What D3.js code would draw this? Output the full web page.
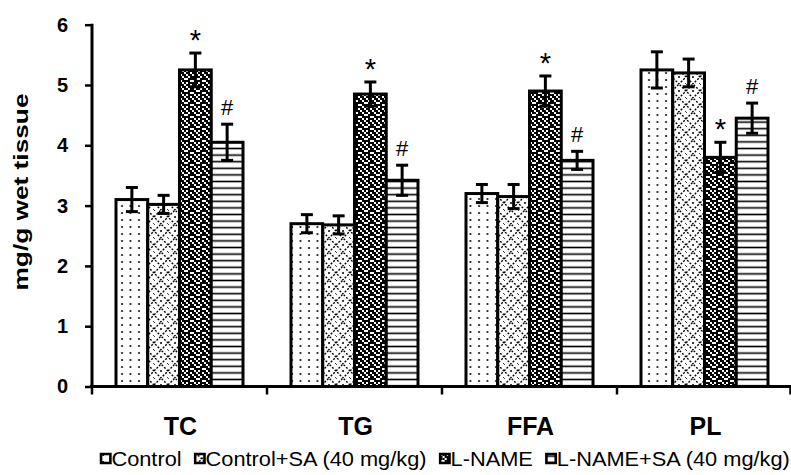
<!DOCTYPE html>
<html>
<head>
<meta charset="utf-8">
<script src="https://cdn.jsdelivr.net/npm/d3@7"></script>
<style>
  body { margin: 0; background: #fff; }
  text { font-family: Arial, "Liberation Sans", sans-serif; fill: #000; }
</style>
</head>
<body>
<svg id="chart"></svg>
<script>
// values, mg/g wet tissue
let categories = ["TC", "TG", "FFA", "PL"];
let groups = ["Control", "Control+SA (40 mg/kg)", "L-NAME", "L-NAME+SA (40 mg/kg)"];
let control = [3.1, 2.7, 3.2, 5.25];
let controlSA = [3.02, 2.68, 3.15, 5.2];
let lname = [5.25, 4.85, 4.9, 3.8];
let lnameSA = [4.05, 3.42, 3.75, 4.45];
let controlErr = [0.2, 0.15, 0.15, 0.3];
let controlSAErr = [0.15, 0.15, 0.2, 0.23];
let lnameErr = [0.28, 0.2, 0.25, 0.25];
let lnameSAErr = [0.3, 0.25, 0.15, 0.25];
let marks = ["", "", "*", "#"];
let yTicks = [0, 1, 2, 3, 4, 5, 6];

let width = 791, height = 475;
let svg = d3.select("#chart").attr("width", width).attr("height", height);

let series = [control, controlSA, lname, lnameSA];
let errs = [controlErr, controlSAErr, lnameErr, lnameSAErr];
let rows = [];
categories.forEach(function(cat, i) {
  groups.forEach(function(g, j) {
    rows.push({ cat: cat, group: g, gi: j, value: series[j][i], err: errs[j][i], mark: marks[j] });
  });
});

let y = d3.scaleLinear().domain([0, 6]).range([386.5, 24.7]);
let x0 = d3.scaleBand().domain(categories).range([92, 792]);
let x1 = d3.scaleBand().domain(groups).range([24, 151]);

// fill patterns
let defs = svg.append("defs");
let pid = ["p0", "p1", "p2", "p3"];

let p0 = defs.append("pattern").attr("id", pid[0]).attr("patternUnits", "userSpaceOnUse")
  .attr("width", 8.5).attr("height", 7);
p0.append("rect").attr("width", 8.5).attr("height", 7).attr("fill", "#fff");
p0.append("circle").attr("cx", 3).attr("cy", 3).attr("r", 1).attr("fill", "#000");

let p1 = defs.append("pattern").attr("id", pid[1]).attr("patternUnits", "userSpaceOnUse")
  .attr("width", 14).attr("height", 14);
p1.append("rect").attr("width", 14).attr("height", 14).attr("fill", "#fff");
p1.append("path").attr("d", "M0,7L7,0L14,7L7,14Z").attr("fill", "none").attr("stroke", "#000")
  .attr("stroke-width", 1.4).attr("stroke-dasharray", "2,1.6");
p1.append("circle").attr("cx", 7).attr("cy", 7).attr("r", 1).attr("fill", "#000");
p1.append("circle").attr("cx", 0).attr("cy", 0).attr("r", 1).attr("fill", "#000");
p1.append("circle").attr("cx", 14).attr("cy", 14).attr("r", 1).attr("fill", "#000");

// speckle tile for L-NAME, 2px cells
let bits = [
  "110110",
  "011011",
  "101101",
  "110011",
  "011110",
  "101011"
];
let p2 = defs.append("pattern").attr("id", pid[2]).attr("patternUnits", "userSpaceOnUse")
  .attr("width", 12).attr("height", 12);
p2.append("rect").attr("width", 12).attr("height", 12).attr("fill", "#fff");
bits.forEach(function(row, r) {
  row.split("").forEach(function(b, c) {
    if (b === "1") {
      p2.append("rect").attr("x", c * 2).attr("y", r * 2).attr("width", 2).attr("height", 2).attr("fill", "#000");
    }
  });
});

let p3 = defs.append("pattern").attr("id", pid[3]).attr("patternUnits", "userSpaceOnUse")
  .attr("width", 10).attr("height", 6.6);
p3.append("rect").attr("width", 10).attr("height", 6.6).attr("fill", "#fff");
p3.append("rect").attr("y", 2.5).attr("width", 10).attr("height", 1.6).attr("fill", "#000");

// bars
svg.append("g").selectAll("rect").data(rows).join("rect")
  .attr("x", d => x0(d.cat) + x1(d.group))
  .attr("y", d => y(d.value))
  .attr("width", x1.bandwidth())
  .attr("height", d => y(0) - y(d.value))
  .attr("fill", d => "url(#" + pid[d.gi] + ")")
  .attr("stroke", "#000")
  .attr("stroke-width", 3);

// error bars
let eb = svg.append("g").attr("stroke", "#000").attr("stroke-width", 3);
rows.forEach(function(d) {
  let cx = x0(d.cat) + x1(d.group) + x1.bandwidth() / 2;
  eb.append("line").attr("x1", cx).attr("x2", cx).attr("y1", y(d.value - d.err)).attr("y2", y(d.value + d.err));
  eb.append("line").attr("x1", cx - 6).attr("x2", cx + 6).attr("y1", y(d.value + d.err)).attr("y2", y(d.value + d.err));
  eb.append("line").attr("x1", cx - 6).attr("x2", cx + 6).attr("y1", y(d.value - d.err)).attr("y2", y(d.value - d.err));
});

// significance marks
svg.append("g").selectAll("text").data(rows.filter(d => d.mark)).join("text")
  .attr("x", d => x0(d.cat) + x1(d.group) + x1.bandwidth() / 2)
  .attr("y", d => y(d.value + d.err) - (d.mark === "*" ? 3 : 9))
  .attr("text-anchor", "middle")
  .style("font-size", d => d.mark === "*" ? "29px" : "22px")
  .text(d => d.mark);

// y axis
let yAxis = svg.append("g").attr("transform", "translate(92,0)")
  .call(d3.axisLeft(y).tickValues(yTicks).tickSize(7).tickPadding(17).tickFormat(d3.format("d")));
yAxis.select(".domain").attr("stroke-width", 3).attr("d", "M0," + (y(6) - 1) + "V" + y(0));
yAxis.selectAll(".tick line").attr("stroke-width", 2.5);
yAxis.selectAll(".tick text").style("font-size", "20px").style("font-weight", "bold").attr("fill", "#000");

// x axis
let xAxis = svg.append("g").attr("transform", "translate(0," + y(0) + ")");
xAxis.append("line").attr("x1", 90).attr("x2", 792).attr("stroke", "#000").attr("stroke-width", 3);
let edges = categories.map(c => x0(c)).concat([x0.range()[1] - 1.5]);
xAxis.selectAll(".edge").data(edges).join("line").attr("class", "edge")
  .attr("x1", d => d).attr("x2", d => d).attr("y1", 0).attr("y2", 8)
  .attr("stroke", "#000").attr("stroke-width", 2.5);
xAxis.selectAll(".cat").data(categories).join("text").attr("class", "cat")
  .attr("x", d => x0(d) + x0.bandwidth() / 2 + 1)
  .attr("y", 48)
  .attr("text-anchor", "middle")
  .style("font-size", "25px").style("font-weight", "bold")
  .text(d => d);

// y label
svg.append("text")
  .attr("transform", "translate(28,192) rotate(-90)")
  .attr("text-anchor", "middle")
  .attr("textLength", 197).attr("lengthAdjust", "spacingAndGlyphs")
  .style("font-size", "20px").style("font-weight", "bold")
  .text("mg/g wet tissue");

// legend
let legend = svg.append("g");
let cursor = 0;
groups.forEach(function(g, j) {
  legend.append("rect").attr("x", cursor + 1).attr("y", -12).attr("width", 9).attr("height", 9)
    .attr("fill", "url(#" + pid[j] + ")").attr("stroke", "#000").attr("stroke-width", 2.5);
  let t = legend.append("text").attr("x", cursor + 11).attr("y", 0)
    .style("font-size", "21px").text(g);
  cursor += 11 + t.node().getComputedTextLength() + 12;
});
let lw = cursor - 12;
legend.attr("transform", "translate(100,466) scale(" + (690 / lw) + ",1)");
</script>
</body>
</html>
